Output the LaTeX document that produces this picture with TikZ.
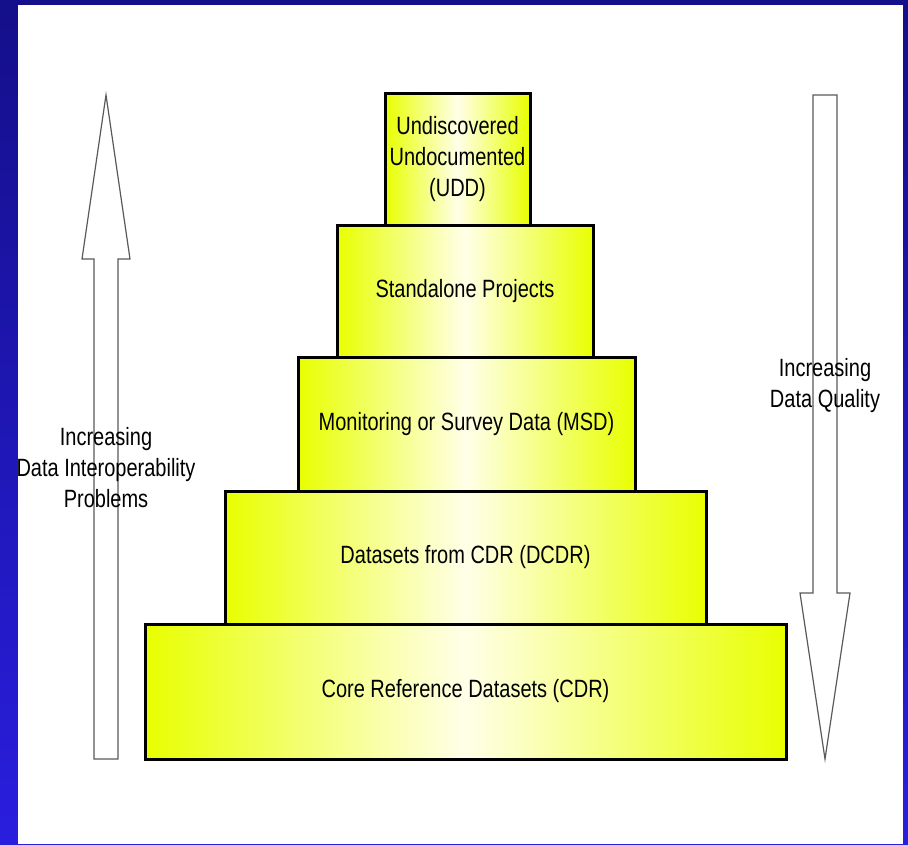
\documentclass[tikz,border=0pt]{standalone}
\usepackage{fontspec}
\newfontfamily\tierfont{Liberation Sans}[FakeStretch=0.8]
\usepackage{tikz}
\usetikzlibrary{positioning}

\definecolor{frametop}{RGB}{20,15,138}
\definecolor{framebot}{RGB}{42,30,222}
\definecolor{tieryel}{RGB}{232,255,0}
\definecolor{tiermid}{RGB}{255,255,232}
\definecolor{arrowln}{RGB}{90,90,90}

\begin{document}
\begin{tikzpicture}[
    x=1pt, y=-1pt,
    tier/.style={draw=black, line width=3pt, inner sep=0pt,
                 left color=tieryel, right color=tieryel, middle color=tiermid,
                 align=center, font=\tierfont\fontsize{25}{31}\selectfont},
    bigarrow/.style={draw=arrowln, line width=1.2pt, fill=white, line join=miter},
    lbl/.style={align=center, font=\tierfont\fontsize{25}{31}\selectfont, inner sep=0pt},
]
\useasboundingbox (0,0) rectangle (908,844);
% frame
\shade[top color=frametop, bottom color=framebot] (0,0) rectangle (908,844);
\fill[white] (18,5) rectangle (903,844);

% side arrows
\draw[bigarrow] (106,95) -- (130,259) -- (118,259) -- (118,759)
    -- (94,759) -- (94,259) -- (82,259) -- cycle;
\draw[bigarrow] (813,95) -- (837,95) -- (837,593) -- (850,593)
    -- (825,759) -- (800,593) -- (813,593) -- cycle;

% pyramid
\node[tier, minimum width=641, minimum height=135] (cdr) at (465.5,691.5)
    {Core Reference Datasets (CDR)};
\node[tier, minimum width=481, minimum height=133] (dcdr) at (465.5,557.5)
    {Datasets from CDR (DCDR)};
\node[tier, minimum width=337, minimum height=134] (msd) at (466.5,424)
    {Monitoring or Survey Data (MSD)};
\node[tier, minimum width=256, minimum height=132] (sp) at (465,291)
    {Standalone Projects};
\node[tier, minimum width=145, minimum height=132] (udd) at (457.5,159)
    {Undiscovered\\Undocumented\\(UDD)};

% labels
\node[lbl] (interop) at (106,468) {Increasing\\Data Interoperability\\Problems};
\node[lbl] (quality) at (825,386) {Increasing\\Data Quality};
\end{tikzpicture}
\end{document}
